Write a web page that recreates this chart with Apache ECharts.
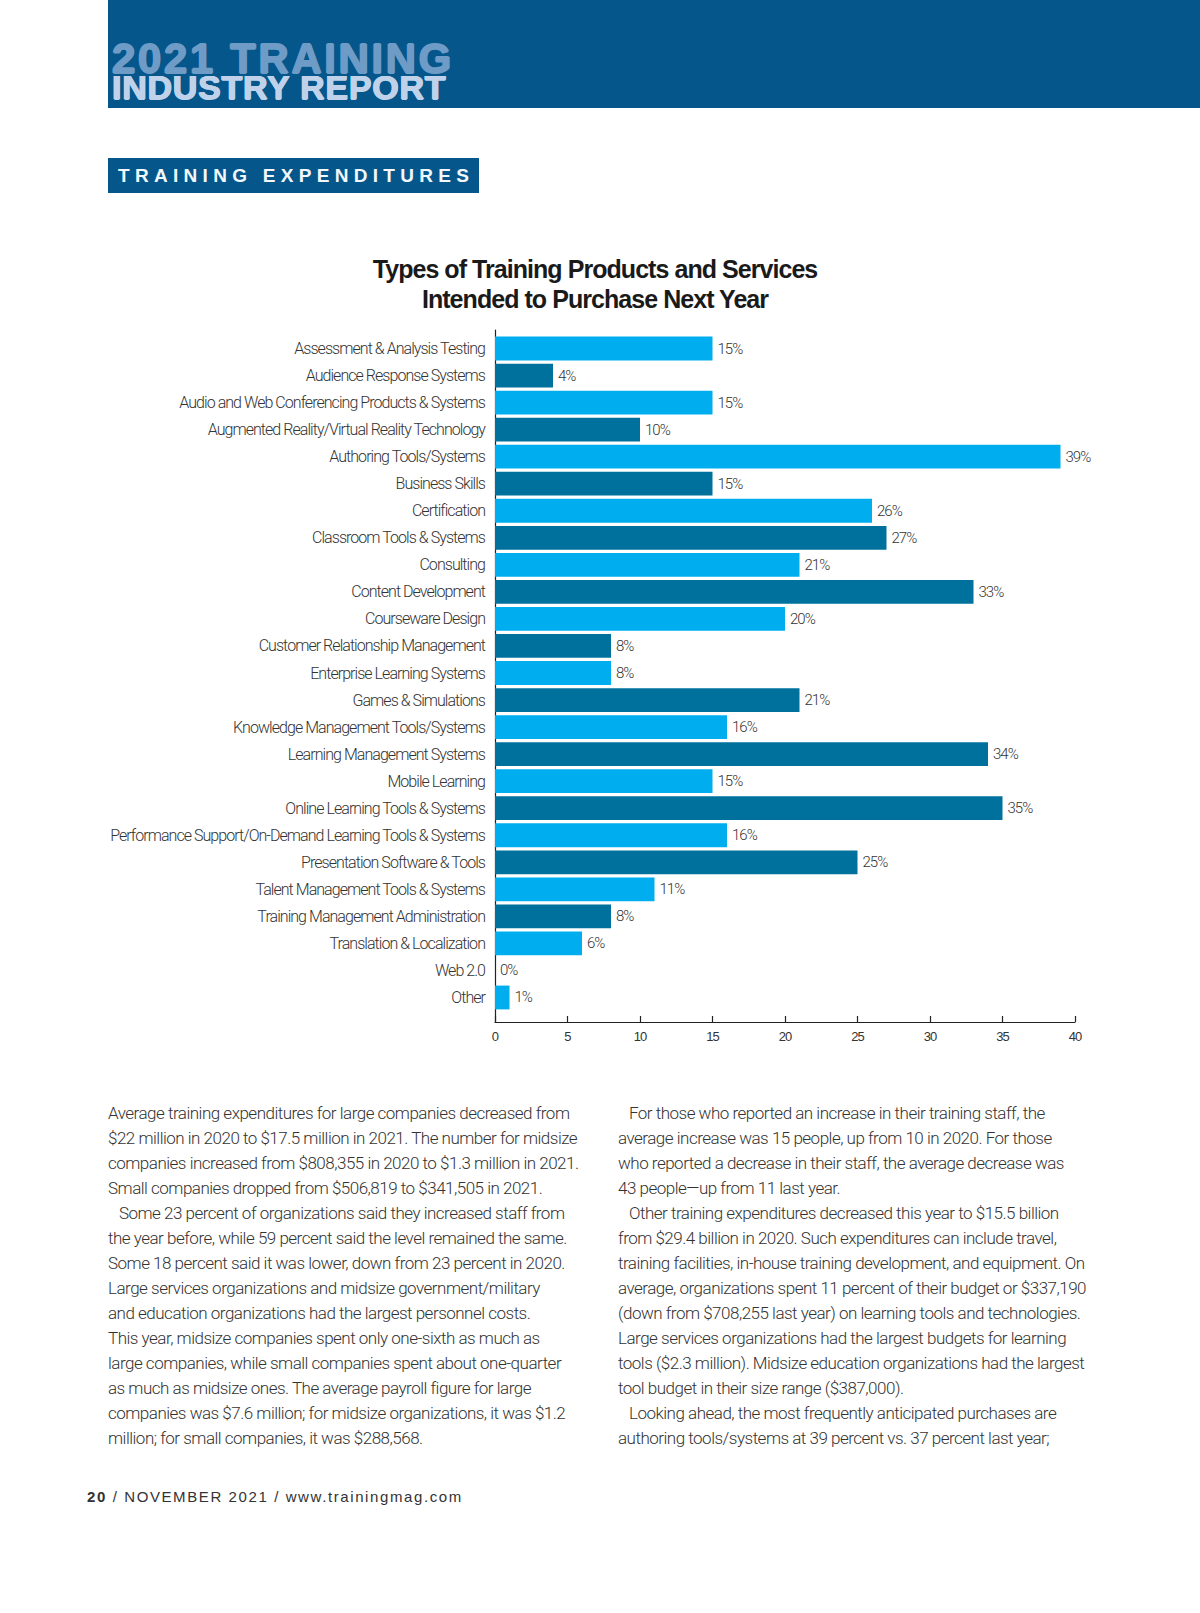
<!DOCTYPE html>
<html><head><meta charset="utf-8">
<script src="https://cdn.jsdelivr.net/npm/echarts@6/dist/echarts.min.js"></script>
<style>
html,body{margin:0;padding:0;background:#fff;}
#page{position:relative;width:1200px;height:1613px;overflow:hidden;background:#fff;}
#chart{position:absolute;left:0;top:0;width:1200px;height:1613px;}
#chart svg text{letter-spacing:-0.95px;}
.hdr{position:absolute;left:108px;top:0;width:1092px;height:108px;background:#05578b;}
.hd{position:absolute;left:112px;top:44.5px;font:bold 34px "Liberation Sans",Arial,sans-serif;line-height:28px;color:#bfd2e9;letter-spacing:0.75px;white-space:pre;
    text-shadow:0.7px 0 0 #bfd2e9,-0.7px 0 0 #bfd2e9,0 0.5px 0 #bfd2e9,0 -0.5px 0 #bfd2e9;}
.hd::first-line{font-size:42px;color:#6f9bc7;letter-spacing:2.6px;
    text-shadow:0.9px 0 0 #6f9bc7,-0.9px 0 0 #6f9bc7,0 0.6px 0 #6f9bc7,0 -0.6px 0 #6f9bc7;}
.sec{position:absolute;left:108px;top:158px;width:371px;height:35px;background:#05578b;}
.sect{position:absolute;left:118px;top:158px;font:bold 19px "Liberation Sans",Arial,sans-serif;line-height:35px;color:#f2f8fc;letter-spacing:5.3px;white-space:pre;}
.body{position:absolute;font:300 17px Roboto,"Noto Sans",sans-serif;color:#333;line-height:25px;letter-spacing:-0.5px;white-space:pre;}
.foot{position:absolute;left:87px;top:1487px;font:15px "Liberation Sans",Arial,sans-serif;line-height:20px;color:#333;letter-spacing:1.6px;white-space:pre;}
</style>
</head><body>
<div id="page">
<div class="hdr"></div>
<div class="hd">2021 TRAINING
INDUSTRY REPORT</div>
<div class="sec"></div>
<div class="sect">TRAINING EXPENDITURES</div>
<div id="chart"></div>
<div class="body" id="colL" style="left:108px;top:1101px;"></div>
<div class="body" id="colR" style="left:618px;top:1101px;"></div>
<div class="foot"><b>20</b> / NOVEMBER 2021 / www.trainingmag.com</div>
</div>
<script>
// ---- data ----
const categories = [
  "Assessment & Analysis Testing",
  "Audience Response Systems",
  "Audio and Web Conferencing Products & Systems",
  "Augmented Reality/Virtual Reality Technology",
  "Authoring Tools/Systems",
  "Business Skills",
  "Certification",
  "Classroom Tools & Systems",
  "Consulting",
  "Content Development",
  "Courseware Design",
  "Customer Relationship Management",
  "Enterprise Learning Systems",
  "Games & Simulations",
  "Knowledge Management Tools/Systems",
  "Learning Management Systems",
  "Mobile Learning",
  "Online Learning Tools & Systems",
  "Performance Support/On-Demand Learning Tools & Systems",
  "Presentation Software & Tools",
  "Talent Management Tools & Systems",
  "Training Management Administration",
  "Translation & Localization",
  "Web 2.0",
  "Other"
];
const values = [15, 4, 15, 10, 39, 15, 26, 27, 21, 33, 20, 8, 8, 21, 16, 34, 15, 35, 16, 25, 11, 8, 6, 0, 1];
const axisMin = 0, axisMax = 40, axisStep = 5;
const titleLines = ["Types of Training Products and Services", "Intended to Purchase Next Year"];

const leftLines = [
  "Average training expenditures for large companies decreased from",
  "$22 million in 2020 to $17.5 million in 2021. The number for midsize",
  "companies increased from $808,355 in 2020 to $1.3 million in 2021.",
  "Small companies dropped from $506,819 to $341,505 in 2021.",
  "   Some 23 percent of organizations said they increased staff from",
  "the year before, while 59 percent said the level remained the same.",
  "Some 18 percent said it was lower, down from 23 percent in 2020.",
  "Large services organizations and midsize government/military",
  "and education organizations had the largest personnel costs.",
  "This year, midsize companies spent only one-sixth as much as",
  "large companies, while small companies spent about one-quarter",
  "as much as midsize ones. The average payroll figure for large",
  "companies was $7.6 million; for midsize organizations, it was $1.2",
  "million; for small companies, it was $288,568."
];
const rightLines = [
  "   For those who reported an increase in their training staff, the",
  "average increase was 15 people, up from 10 in 2020. For those",
  "who reported a decrease in their staff, the average decrease was",
  "43 people\u2014up from 11 last year.",
  "   Other training expenditures decreased this year to $15.5 billion",
  "from $29.4 billion in 2020. Such expenditures can include travel,",
  "training facilities, in-house training development, and equipment. On",
  "average, organizations spent 11 percent of their budget or $337,190",
  "(down from $708,255 last year) on learning tools and technologies.",
  "Large services organizations had the largest budgets for learning",
  "tools ($2.3 million). Midsize education organizations had the largest",
  "tool budget in their size range ($387,000).",
  "   Looking ahead, the most frequently anticipated purchases are",
  "authoring tools/systems at 39 percent vs. 37 percent last year;"
];
document.getElementById('colL').textContent = leftLines.join('\n');
document.getElementById('colR').textContent = rightLines.join('\n');

const LIGHT = '#00aeef', DARK = '#00709c';
const LABEL_FONT = 'Roboto, "Noto Sans", sans-serif';

const chart = echarts.init(document.getElementById('chart'), null, {renderer: 'svg'});
chart.setOption({
  animation: false,
  title: {
    text: titleLines.join('\n'),
    left: 590, top: 249, textAlign: 'center',
    textStyle: {fontFamily: '"Liberation Sans", Arial, sans-serif', fontWeight: 'bold', fontSize: 25, lineHeight: 30, color: '#1a1a1a'}
  },
  grid: [
    {left: 495, top: 330, width: 580, height: 692, containLabel: false},
    {left: 495, top: 335, width: 580, height: 676, containLabel: false}
  ],
  xAxis: [
    {gridIndex: 0, type: 'value', min: axisMin, max: axisMax, interval: axisStep,
     axisLine: {show: true, lineStyle: {color: '#222', width: 1.2}},
     axisTick: {show: true, inside: true, length: 6, lineStyle: {color: '#222', width: 1.2}},
     axisLabel: {color: '#333', fontFamily: '"Liberation Sans", Arial, sans-serif', fontSize: 13, margin: 8},
     splitLine: {show: false}},
    {gridIndex: 1, type: 'value', min: axisMin, max: axisMax, show: false, splitLine: {show: false}}
  ],
  yAxis: [
    {gridIndex: 0, type: 'value', min: 0, max: 1,
     axisLine: {show: true, lineStyle: {color: '#222', width: 1.2}},
     axisTick: {show: false}, axisLabel: {show: false}, splitLine: {show: false}},
    {gridIndex: 1, type: 'category', data: categories, inverse: true,
     axisLine: {show: false}, axisTick: {show: false}, splitLine: {show: false},
     axisLabel: {color: '#333', fontFamily: LABEL_FONT, fontWeight: 300, fontSize: 16, margin: 10}}
  ],
  series: [{
    type: 'bar', xAxisIndex: 1, yAxisIndex: 1,
    data: values,
    barCategoryGap: '12%',
    itemStyle: {color: p => (p.dataIndex % 2 === 0 ? LIGHT : DARK)},
    label: {show: true, position: 'right', distance: 5, formatter: '{c}%',
            color: '#333', fontFamily: LABEL_FONT, fontWeight: 300, fontSize: 15}
  }]
});
</script>
</body></html>
